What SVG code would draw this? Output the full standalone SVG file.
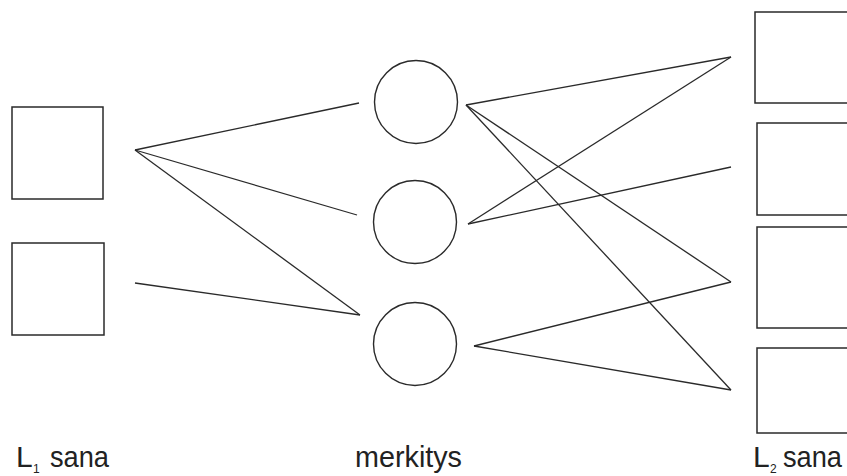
<svg xmlns="http://www.w3.org/2000/svg" width="847" height="476" viewBox="0 0 847 476">
  <style>
    .box { fill: none; stroke: #2a2a2a; stroke-width: 1.5; }
    .node { fill: none; stroke: #2a2a2a; stroke-width: 1.4; }
    .link { stroke: #2a2a2a; stroke-width: 1.3; fill: none; }
    .label { font-family: "Liberation Sans", Arial, sans-serif; font-size: 30px; fill: #222; }
    .sub { font-family: "Liberation Sans", Arial, sans-serif; font-size: 12px; fill: #222; }
  </style>
  <rect width="847" height="476" fill="#ffffff"/>

  <!-- L1 words -->
  <g id="l1-word-1"><rect class="box" x="12" y="107" width="91" height="92"/></g>
  <g id="l1-word-2"><rect class="box" x="12" y="243" width="92" height="92"/></g>

  <!-- meanings -->
  <g id="meaning-1"><circle class="node" cx="416" cy="102" r="41.5"/></g>
  <g id="meaning-2"><circle class="node" cx="415" cy="222" r="41.5"/></g>
  <g id="meaning-3"><circle class="node" cx="415" cy="344" r="41.5"/></g>

  <!-- L2 words -->
  <g id="l2-word-1"><rect class="box" x="755" y="12" width="96" height="91"/></g>
  <g id="l2-word-2"><rect class="box" x="757" y="123" width="96" height="92"/></g>
  <g id="l2-word-3"><rect class="box" x="757" y="227" width="96" height="101"/></g>
  <g id="l2-word-4"><rect class="box" x="757" y="348" width="96" height="85"/></g>

  <!-- connectors -->
  <g id="connectors">
    <line class="link" x1="135" y1="150" x2="359" y2="103"/>
    <line class="link" x1="135" y1="150" x2="357" y2="215"/>
    <line class="link" x1="135" y1="150" x2="360" y2="315"/>
    <line class="link" x1="135" y1="283" x2="360" y2="315"/>

    <line class="link" x1="466" y1="105" x2="731" y2="57"/>
    <line class="link" x1="466" y1="105" x2="731" y2="282"/>
    <line class="link" x1="466" y1="105" x2="731" y2="390"/>
    <line class="link" x1="468" y1="224" x2="731" y2="57"/>
    <line class="link" x1="468" y1="224" x2="731" y2="167"/>
    <line class="link" x1="474" y1="346" x2="731" y2="282"/>
    <line class="link" x1="474" y1="346" x2="731" y2="390"/>
  </g>

  <!-- column labels -->
  <g id="labels">
    <text class="label" x="16" y="467">L</text>
    <text class="sub" x="33" y="473">1</text>
    <text class="label" x="50" y="467" textLength="59" lengthAdjust="spacingAndGlyphs">sana</text>

    <text class="label" x="355" y="467" textLength="107" lengthAdjust="spacingAndGlyphs">merkitys</text>

    <text class="label" x="753" y="467">L</text>
    <text class="sub" x="770" y="473">2</text>
    <text class="label" x="783" y="467" textLength="59" lengthAdjust="spacingAndGlyphs">sana</text>
  </g>
</svg>
